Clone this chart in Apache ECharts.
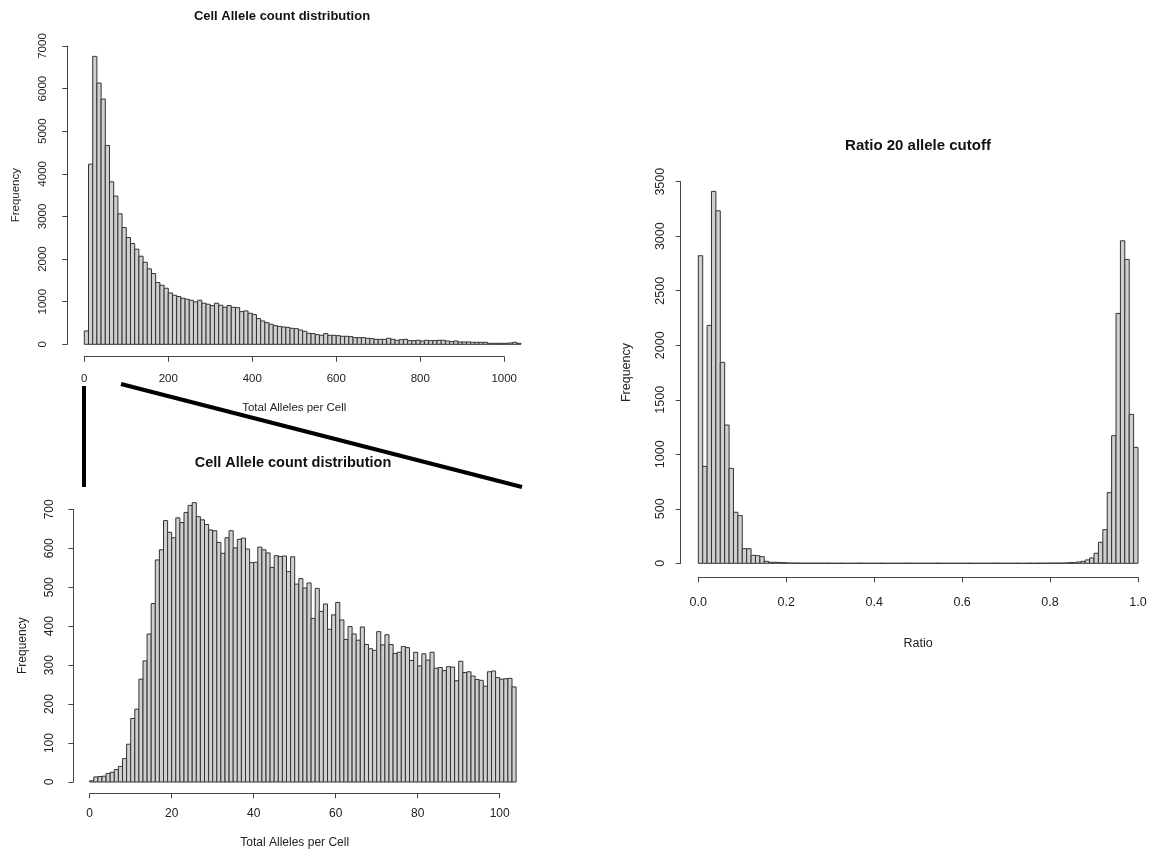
<!DOCTYPE html>
<html>
<head>
<meta charset="utf-8">
<script src="https://cdn.jsdelivr.net/npm/echarts@6/dist/echarts.min.js"></script>
<style>html,body{margin:0;padding:0;background:#fff}#c{width:1151px;height:856px}</style>
</head>
<body>
<div id="c"></div>
<script>
// ---- Data ----
// Top: Cell allele count, bin width 10, 0..1040
const topBinWidth = 10;
const topCounts = [313, 4228, 6757, 6131, 5755, 4667, 3813, 3477, 3062, 2740,
 2506, 2365, 2232, 2067, 1926, 1770, 1660, 1449, 1386, 1315,
 1206, 1151, 1120, 1081, 1057, 1034, 994, 1034, 965, 940,
 908, 963, 916, 869, 908, 869, 861, 767, 783, 728,
 697, 603, 548, 509, 470, 438, 420, 405, 397, 375,
 367, 336, 305, 258, 250, 227, 211, 250, 211, 211,
 203, 188, 188, 180, 156, 156, 156, 141, 133, 117,
 117, 117, 141, 117, 94, 109, 117, 86, 86, 94,
 78, 94, 86, 86, 94, 94, 78, 63, 78, 55,
 55, 55, 47, 47, 47, 47, 23, 23, 23, 23,
 23, 31, 47, 23];
const topXTicks = [0, 200, 400, 600, 800, 1000];
const topYTicks = [0, 1000, 2000, 3000, 4000, 5000, 6000, 7000];

// Bottom: zoom 0..104, bin width 1
const botBinWidth = 1;
const botCounts = [3, 13, 14, 15, 22, 25, 32, 40, 60, 97,
 163, 187, 264, 311, 380, 458, 570, 596, 671, 641,
 627, 678, 666, 692, 710, 717, 681, 673, 661, 647,
 645, 615, 587, 627, 645, 601, 623, 626, 598, 563,
 564, 603, 596, 588, 551, 581, 579, 580, 540, 578,
 508, 522, 498, 511, 420, 497, 438, 457, 392, 429,
 461, 416, 366, 399, 380, 364, 398, 353, 342, 338,
 386, 352, 378, 353, 330, 333, 348, 345, 312, 333,
 298, 329, 313, 333, 292, 294, 286, 296, 295, 260,
 310, 281, 283, 272, 263, 261, 246, 283, 285, 268,
 264, 265, 266, 244];
const botXTicks = [0, 20, 40, 60, 80, 100];
const botYTicks = [0, 100, 200, 300, 400, 500, 600, 700];

// Right: ratio, bin width 0.01
const ratioBinWidth = 0.01;
const ratioCounts = [2821, 889, 2182, 3411, 3233, 1843, 1268, 871, 468, 437,
 134, 134, 73, 70, 61, 18, 9, 9, 8, 6, 3, 2,
 2,1,1,1,0,1,0,1,0,0, 1,0,0,0,1,0,0,0,0,1, 0,0,0,0,0,1,0,0,0,0,
 0,0,1,0,0,0,0,0,0,1, 0,0,0,0,0,1,0,0,0,0, 1,0,0,1,0,1,1,1,2,2, 2,
 3, 6, 6, 12, 18, 31, 49, 92, 193, 309, 648, 1170, 2292, 2958, 2787, 1366, 1063];
const ratioXTicks = [0.0, 0.2, 0.4, 0.6, 0.8, 1.0];
const ratioYTicks = [0, 500, 1000, 1500, 2000, 2500, 3000, 3500];

// ---- Build ----
function bins(counts, w) {
  return counts.map((c, i) => [+(i * w).toFixed(6), +((i + 1) * w).toFixed(6), c]);
}
const FONT = '"Liberation Sans", Arial, Helvetica, sans-serif';
const TXT = '#222';
const AX = '#444';

function renderBar(params, api) {
  const p0 = api.coord([api.value(0), api.value(2)]);
  const p1 = api.coord([api.value(1), 0]);
  return {
    type: 'rect',
    shape: { x: p0[0], y: p0[1], width: p1[0] - p0[0], height: p1[1] - p0[1] },
    style: { fill: '#cfcfcf', stroke: '#333', lineWidth: 1 }
  };
}

function xAxisCfg(idx, ticks, name, fs, off, margin, gap, fmt) {
  return {
    gridIndex: idx, type: 'value', min: ticks[0], max: ticks[ticks.length - 1],
    interval: ticks[1] - ticks[0], offset: off,
    name: name, nameLocation: 'middle', nameGap: gap,
    nameTextStyle: { fontFamily: FONT, fontSize: fs, color: TXT },
    axisLine: { show: true, onZero: false, lineStyle: { color: AX, width: 1 } },
    axisTick: { show: true, length: 5, lineStyle: { color: AX, width: 1 } },
    axisLabel: { fontFamily: FONT, fontSize: fs, color: TXT, margin: margin,
      formatter: fmt || (v => String(v)), showMinLabel: true, showMaxLabel: true },
    splitLine: { show: false }
  };
}
function yAxisCfg(idx, ticks, name, fs, off, margin, gap) {
  return {
    gridIndex: idx, type: 'value', min: ticks[0], max: ticks[ticks.length - 1],
    interval: ticks[1] - ticks[0], offset: off,
    name: name, nameLocation: 'middle', nameGap: gap, nameRotate: 90,
    nameTextStyle: { fontFamily: FONT, fontSize: fs, color: TXT },
    axisLine: { show: true, onZero: false, lineStyle: { color: AX, width: 1 } },
    axisTick: { show: true, length: 5, lineStyle: { color: AX, width: 1 } },
    axisLabel: { fontFamily: FONT, fontSize: fs, color: TXT, margin: margin, rotate: 90,
      formatter: v => String(v), showMinLabel: true, showMaxLabel: true },
    splitLine: { show: false }
  };
}

const chart = echarts.init(document.getElementById('c'), null, { renderer: 'canvas' });
chart.setOption({
  backgroundColor: '#fff',
  animation: false,
  grid: [
    { left: 84.3, top: 46, width: 419.9, height: 298.3 },
    { left: 89.7, top: 509.3, width: 410, height: 272.7 },
    { left: 698.3, top: 181.7, width: 439.7, height: 381.6 }
  ],
  xAxis: [
    xAxisCfg(0, topXTicks, 'Total Alleles per Cell', 11.5, 12.4, 16, 45),
    xAxisCfg(1, botXTicks, 'Total Alleles per Cell', 12, 11.3, 14, 43),
    xAxisCfg(2, ratioXTicks, 'Ratio', 12.5, 14, 19, 60, v => v.toFixed(1))
  ],
  yAxis: [
    yAxisCfg(0, topYTicks, 'Frequency', 11.5, 17, 18, 45),
    yAxisCfg(1, botYTicks, 'Frequency', 12, 16.4, 18, 45),
    yAxisCfg(2, ratioYTicks, 'Frequency', 12.5, 17.6, 14, 48)
  ],
  series: [
    { type: 'custom', xAxisIndex: 0, yAxisIndex: 0, clip: false, renderItem: renderBar,
      encode: { x: [0, 1], y: 2 }, data: bins(topCounts, topBinWidth) },
    { type: 'custom', xAxisIndex: 1, yAxisIndex: 1, clip: false, renderItem: renderBar,
      encode: { x: [0, 1], y: 2 }, data: bins(botCounts, botBinWidth) },
    { type: 'custom', xAxisIndex: 2, yAxisIndex: 2, clip: false, renderItem: renderBar,
      encode: { x: [0, 1], y: 2 }, data: bins(ratioCounts, ratioBinWidth) }
  ],
  graphic: [
    { type: 'text', x: 282, y: 16, style: { text: 'Cell Allele count distribution', fontFamily: FONT,
      fontWeight: 'bold', fontSize: 13, fill: '#111', textAlign: 'center', textVerticalAlign: 'middle' } },
    { type: 'text', x: 293, y: 463, style: { text: 'Cell Allele count distribution', fontFamily: FONT,
      fontWeight: 'bold', fontSize: 14.5, fill: '#111', textAlign: 'center', textVerticalAlign: 'middle' } },
    { type: 'text', x: 918, y: 146, style: { text: 'Ratio 20 allele cutoff', fontFamily: FONT,
      fontWeight: 'bold', fontSize: 15, fill: '#111', textAlign: 'center', textVerticalAlign: 'middle' } },
    { type: 'line', shape: { x1: 84, y1: 386, x2: 84, y2: 487 }, style: { stroke: '#000', lineWidth: 4 } },
    { type: 'line', shape: { x1: 121, y1: 384, x2: 522, y2: 487 }, style: { stroke: '#000', lineWidth: 4 } }
  ]
});
</script>
</body>
</html>
